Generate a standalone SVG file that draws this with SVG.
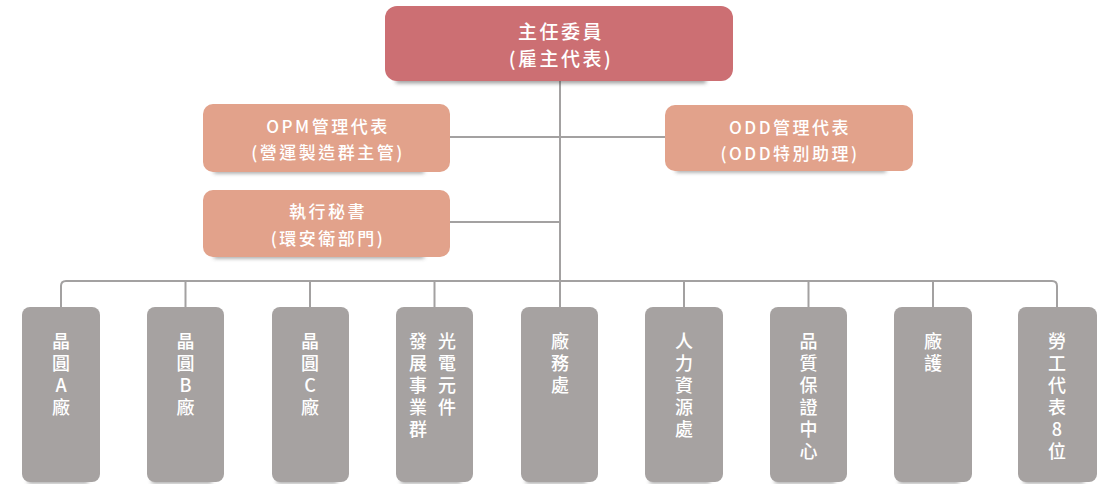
<svg xmlns="http://www.w3.org/2000/svg" width="1104" height="484" viewBox="0 0 1104 484">
<defs>
<filter id="blur" x="-20%" y="-200%" width="140%" height="500%"><feGaussianBlur stdDeviation="2"/></filter>
<style>
.t{font-family:"Noto Sans CJK TC","Noto Sans",sans-serif;fill:#fff;text-anchor:middle;font-weight:500}
.top{fill:#CC6F73}
.mid{fill:#E2A28B}
.bot{fill:#A6A2A1}
.sh{fill:#444;opacity:0.6;filter:url(#blur)}
.c{stroke:#A3A1A1;stroke-width:2;fill:none}
.h{font-size:19px;letter-spacing:2.5px}
.m{font-size:17px;letter-spacing:2.5px}
.v{font-size:18px}
</style>
</defs>
<g id="connectors">
<path class="c" d="M560 81 V281"/>
<path class="c" d="M450 137 H665"/>
<path class="c" d="M450 222 H560"/>
<path class="c" d="M61 307 V286 Q61 281 66 281 H1052 Q1057 281 1057 286 V307"/>
<path class="c" d="M185.5 281 V307 M310 281 V307 M434.5 281 V307 M560 281 V307 M684 281 V307 M808.5 281 V307 M933 281 V307"/>
</g>
<g id="n_top">
<rect class="sh" x="396" y="78" width="310" height="5"/>
<rect class="top" x="385" y="6" width="348" height="75" rx="12"/>
<text class="t h" x="561" y="39">主任委員</text>
<text class="t h" x="561" y="66">(雇主代表)</text>
</g>
<g id="n_opm">
<rect class="sh" x="214" y="169" width="210" height="4"/>
<rect class="mid" x="203" y="104" width="247" height="68" rx="10"/>
<text class="t m" x="328" y="133">OPM管理代表</text>
<text class="t m" x="328" y="159">(營運製造群主管)</text>
</g>
<g id="n_sec">
<rect class="sh" x="214" y="254" width="210" height="4"/>
<rect class="mid" x="203" y="190" width="247" height="67" rx="10"/>
<text class="t m" x="328" y="218">執行秘書</text>
<text class="t m" x="328" y="245">(環安衛部門)</text>
</g>
<g id="n_odd">
<rect class="sh" x="676" y="168" width="210" height="4"/>
<rect class="mid" x="665" y="105" width="248" height="66" rx="10"/>
<text class="t m" x="790" y="134">ODD管理代表</text>
<text class="t m" x="790" y="160">(ODD特別助理)</text>
</g>
<g id="n_a">
<rect class="sh" x="28" y="479" width="60" height="4"/>
<rect class="bot" x="22" y="307" width="78" height="175" rx="8"/>
<text class="t v" x="61" y="348"><tspan x="61">晶</tspan><tspan x="61" dy="22">圓</tspan><tspan x="61" dy="22">A</tspan><tspan x="61" dy="22">廠</tspan></text>
</g>
<g id="n_b">
<rect class="sh" x="152" y="479" width="60" height="4"/>
<rect class="bot" x="147" y="307" width="77" height="175" rx="8"/>
<text class="t v" x="185.5" y="348"><tspan x="185.5">晶</tspan><tspan x="185.5" dy="22">圓</tspan><tspan x="185.5" dy="22">B</tspan><tspan x="185.5" dy="22">廠</tspan></text>
</g>
<g id="n_c">
<rect class="sh" x="277" y="479" width="60" height="4"/>
<rect class="bot" x="272" y="307" width="77" height="175" rx="8"/>
<text class="t v" x="310" y="348"><tspan x="310">晶</tspan><tspan x="310" dy="22">圓</tspan><tspan x="310" dy="22">C</tspan><tspan x="310" dy="22">廠</tspan></text>
</g>
<g id="n_opto">
<rect class="sh" x="401" y="479" width="60" height="4"/>
<rect class="bot" x="396" y="307" width="77" height="175" rx="8"/>
<text class="t v" x="447" y="348"><tspan x="447">光</tspan><tspan x="447" dy="22">電</tspan><tspan x="447" dy="22">元</tspan><tspan x="447" dy="22">件</tspan></text>
<text class="t v" x="418" y="348"><tspan x="418">發</tspan><tspan x="418" dy="22">展</tspan><tspan x="418" dy="22">事</tspan><tspan x="418" dy="22">業</tspan><tspan x="418" dy="22">群</tspan></text>
</g>
<g id="n_fac">
<rect class="sh" x="526" y="479" width="60" height="4"/>
<rect class="bot" x="521" y="307" width="77" height="175" rx="8"/>
<text class="t v" x="560" y="348"><tspan x="560">廠</tspan><tspan x="560" dy="22">務</tspan><tspan x="560" dy="22">處</tspan></text>
</g>
<g id="n_hr">
<rect class="sh" x="650" y="479" width="60" height="4"/>
<rect class="bot" x="645" y="307" width="78" height="175" rx="8"/>
<text class="t v" x="684" y="348"><tspan x="684">人</tspan><tspan x="684" dy="22">力</tspan><tspan x="684" dy="22">資</tspan><tspan x="684" dy="22">源</tspan><tspan x="684" dy="22">處</tspan></text>
</g>
<g id="n_qa">
<rect class="sh" x="775" y="479" width="60" height="4"/>
<rect class="bot" x="770" y="307" width="77" height="175" rx="8"/>
<text class="t v" x="808.5" y="348"><tspan x="808.5">品</tspan><tspan x="808.5" dy="22">質</tspan><tspan x="808.5" dy="22">保</tspan><tspan x="808.5" dy="22">證</tspan><tspan x="808.5" dy="22">中</tspan><tspan x="808.5" dy="22">心</tspan></text>
</g>
<g id="n_guard">
<rect class="sh" x="899" y="479" width="60" height="4"/>
<rect class="bot" x="894" y="307" width="78" height="175" rx="8"/>
<text class="t v" x="933" y="348"><tspan x="933">廠</tspan><tspan x="933" dy="22">護</tspan></text>
</g>
<g id="n_labor">
<rect class="sh" x="1024" y="479" width="60" height="4"/>
<rect class="bot" x="1018" y="307" width="79" height="175" rx="8"/>
<text class="t v" x="1057" y="348"><tspan x="1057">勞</tspan><tspan x="1057" dy="22">工</tspan><tspan x="1057" dy="22">代</tspan><tspan x="1057" dy="22">表</tspan><tspan x="1057" dy="22">8</tspan><tspan x="1057" dy="22">位</tspan></text>
</g>
</svg>
